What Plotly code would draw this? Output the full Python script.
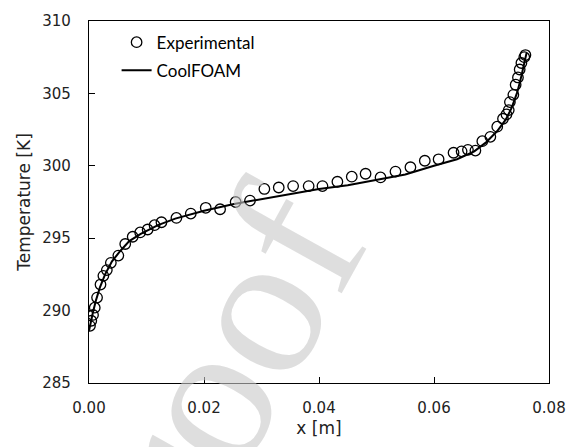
import plotly.graph_objects as go

# Measured temperature profile
exp_x = [0.00017, 0.0004, 0.0007, 0.0010, 0.0014, 0.0020, 0.0025, 0.0031, 0.0038,
         0.0051, 0.0063, 0.0076, 0.0089, 0.0102, 0.0114, 0.0126, 0.0152, 0.0177,
         0.0203, 0.0228, 0.0255, 0.0280, 0.0305, 0.0330, 0.0355, 0.0382, 0.0406,
         0.0432, 0.0457, 0.0481, 0.0507, 0.0533, 0.0559, 0.0584, 0.0608, 0.0634,
         0.0648, 0.0659, 0.0672, 0.0684, 0.0698, 0.0710, 0.0720, 0.0726, 0.0730,
         0.0732, 0.0738, 0.0742, 0.0746, 0.0749, 0.0752, 0.0757, 0.0759]
exp_T = [288.95, 289.3, 289.7, 290.2, 290.9, 291.8, 292.4, 292.8, 293.3,
         293.8, 294.6, 295.1, 295.4, 295.6, 295.9, 296.1, 296.4, 296.7,
         297.1, 297.0, 297.5, 297.6, 298.4, 298.5, 298.6, 298.6, 298.6,
         298.9, 299.25, 299.45, 299.2, 299.6, 299.9, 300.35, 300.45, 300.9,
         301.0, 301.1, 301.05, 301.7, 302.0, 302.7, 303.25, 303.55, 303.85,
         304.4, 304.9, 305.6, 306.1, 306.65, 307.1, 307.5, 307.65]

# CoolFOAM simulation
sim_x = [0.0, 0.0003, 0.0007, 0.0012, 0.0019, 0.0028, 0.004, 0.0054, 0.007, 0.009,
         0.012, 0.015, 0.02, 0.025, 0.03, 0.035, 0.04, 0.045, 0.05, 0.055, 0.06,
         0.064, 0.067, 0.069, 0.071, 0.0725, 0.0735, 0.0745, 0.0752, 0.0757, 0.0761]
sim_T = [288.6, 289.2, 289.9, 290.7, 291.6, 292.5, 293.4, 294.1, 294.8, 295.3,
         295.9, 296.35, 296.9, 297.35, 297.7, 298.05, 298.4, 298.65, 299.0, 299.4, 300.0,
         300.45, 301.0, 301.6, 302.4, 303.2, 304.0, 305.1, 306.2, 307.0, 307.8]

x_ticks = [0.00, 0.02, 0.04, 0.06, 0.08]
y_ticks = [285, 290, 295, 300, 305, 310]

fig = go.Figure()
fig.add_trace(go.Scatter(
    x=exp_x, y=exp_T, mode="markers", name="Experimental", legendgroup="a",
    marker=dict(symbol="circle-open", size=10.5, color="black", line=dict(width=1.3, color="black")),
))
fig.add_trace(go.Scatter(
    x=sim_x, y=sim_T, mode="lines", name="CoolFOAM", legendgroup="b",
    line=dict(color="black", width=2),
))

axis_common = dict(
    showline=True, linecolor="black", linewidth=1.3, mirror=True,
    ticks="inside", ticklen=6, tickwidth=1, tickcolor="black",
    showgrid=False, zeroline=False,
    tickfont=dict(family="DejaVu Sans", size=15, color="#222"),
    title_font=dict(family="DejaVu Sans", size=17, color="#222"),
)

fig.update_layout(
    width=578, height=447,
    margin=dict(l=89, r=27, t=13, b=64),
    paper_bgcolor="white", plot_bgcolor="white",
    xaxis=dict(range=[0, 0.08], tickvals=x_ticks, tickformat=".2f",
               ticklabelstandoff=11, title=dict(text="x [m]", standoff=5), **axis_common),
    yaxis=dict(range=[285, 310], tickvals=y_ticks,
               ticklabelstandoff=14, title=dict(text="Temperature [K]", standoff=7), **axis_common),
    legend=dict(x=0.06, y=0.99, xanchor="left", yanchor="top",
                font=dict(family="Lato", size=17, color="black"),
                bgcolor="rgba(0,0,0,0)", traceorder="grouped", tracegroupgap=3),
    annotations=[dict(
        x=0.2403, y=-0.0659, xref="paper", yref="paper", xanchor="center", yanchor="middle",
        text="Proof", showarrow=False, textangle=-61,
        font=dict(family="Liberation Serif", size=205, color="rgba(200,200,200,0.6)"),
    )],
)

fig.write_html("out.html")
